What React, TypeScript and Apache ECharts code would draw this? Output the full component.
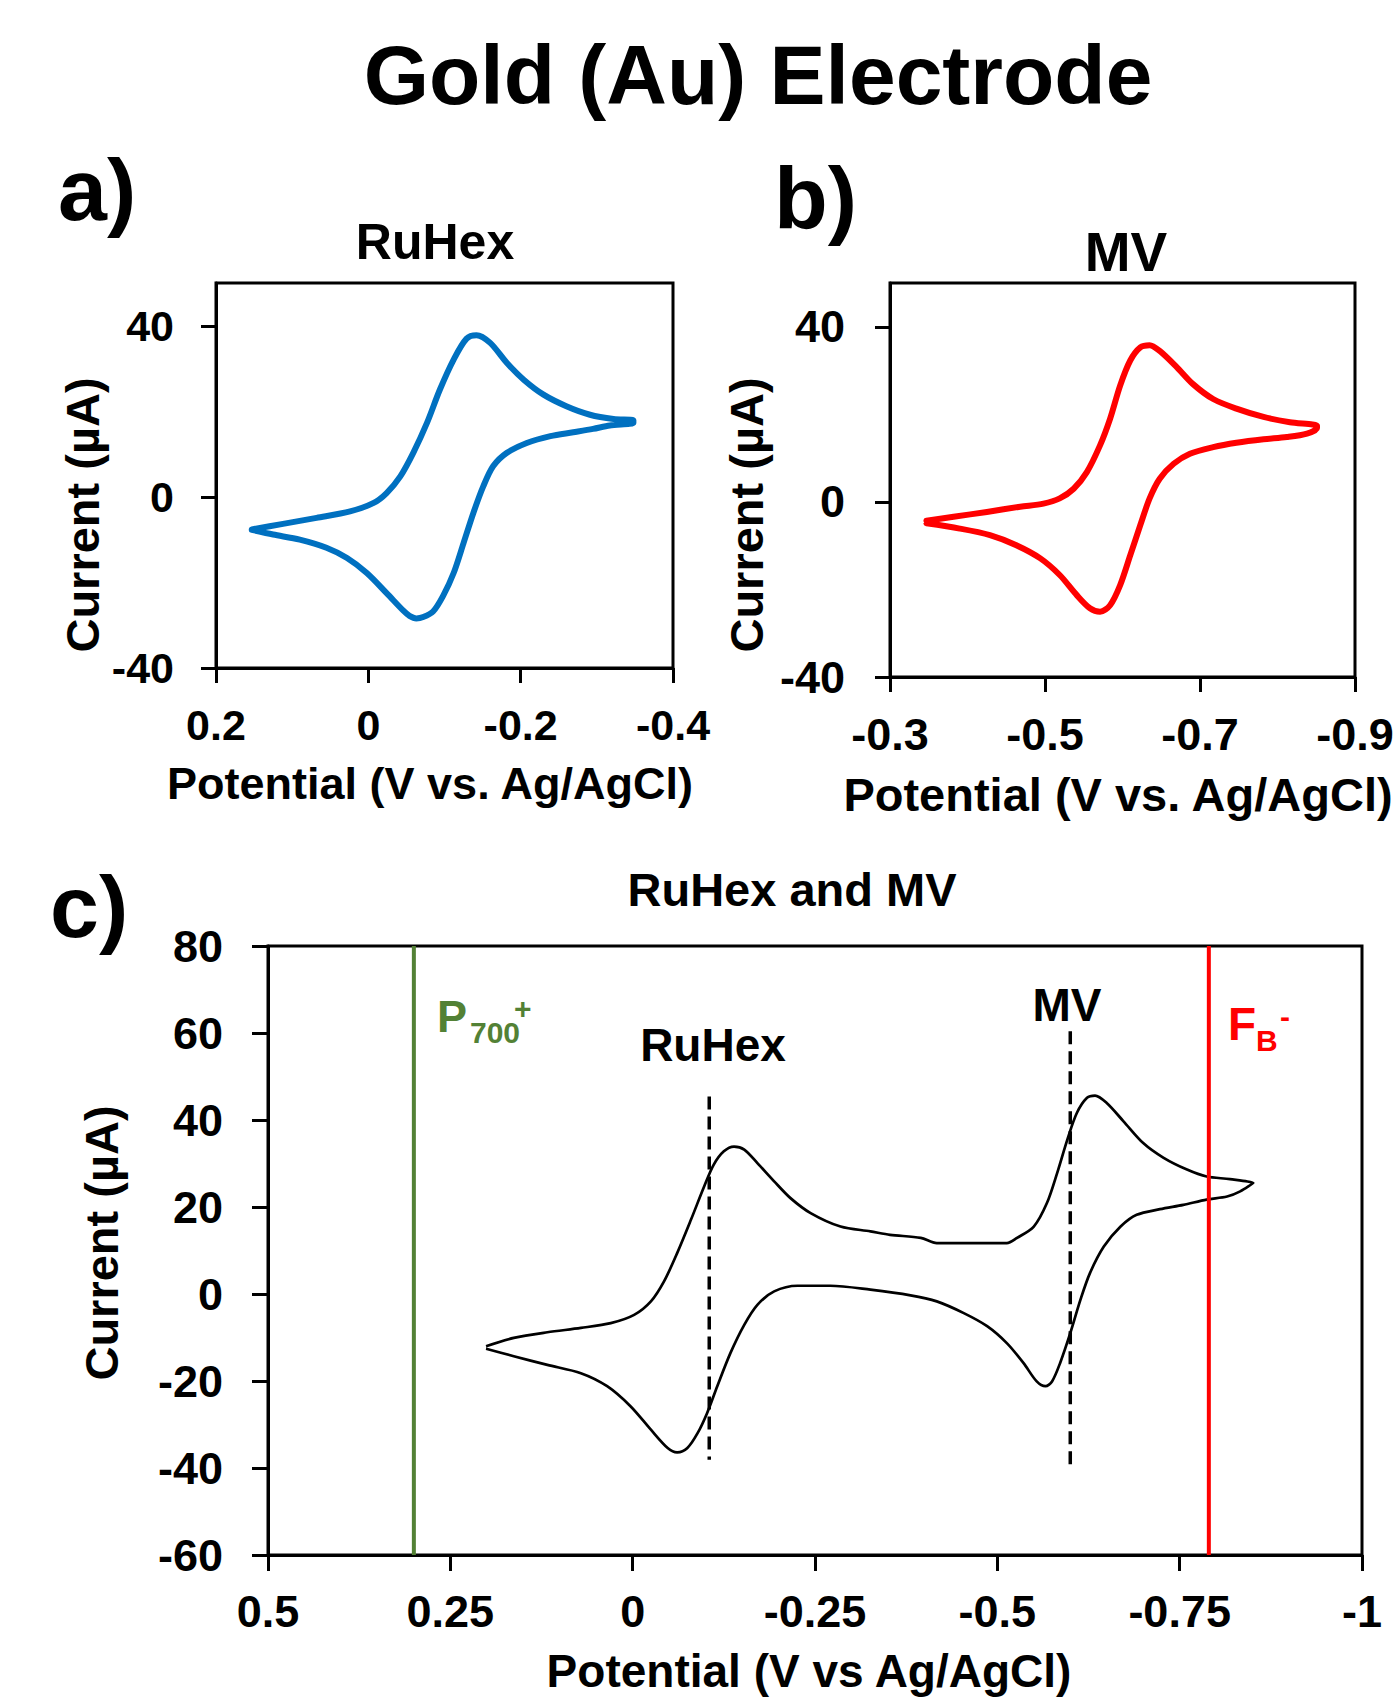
import React, { useEffect, useRef } from "react";
import * as echarts from "echarts";

// ---------- data (potential V vs Ag/AgCl, current µA) ----------
const ruhexScanOut: number[][] = [
  [0.153, -7.6], [0.112, -6.3], [0.068, -4.9], [0.024, -3.4], [-0.007, -1.4], [-0.024, 0.9],
  [-0.042, 4.8], [-0.059, 10.3], [-0.077, 17.3], [-0.094, 25.1], [-0.112, 32.1], [-0.129, 37.0],
  [-0.142, 37.8], [-0.160, 36.0], [-0.182, 31.3], [-0.204, 27.4], [-0.230, 23.9], [-0.260, 21.2],
  [-0.291, 19.2], [-0.322, 18.2], [-0.348, 17.9],
];
const ruhexScanBack: number[][] = [
  [-0.348, 17.3], [-0.317, 16.7], [-0.295, 15.9], [-0.269, 15.1], [-0.239, 14.2], [-0.208, 12.6],
  [-0.182, 10.3], [-0.164, 7.2], [-0.151, 2.5], [-0.138, -3.7], [-0.125, -10.8], [-0.112, -17.8],
  [-0.098, -23.2], [-0.085, -26.8], [-0.072, -28.1], [-0.063, -28.4], [-0.054, -27.8], [-0.046, -26.6],
  [-0.024, -22.5], [0.002, -17.8], [0.028, -14.3], [0.055, -11.9], [0.090, -10.0], [0.125, -8.8],
  [0.153, -7.7],
];

const mvScanOut: number[][] = [
  [-0.347, -4.3], [-0.382, -3.4], [-0.425, -2.3], [-0.468, -1.1], [-0.498, -0.4], [-0.519, 0.8],
  [-0.537, 3.0], [-0.554, 6.8], [-0.571, 12.9], [-0.584, 19.0], [-0.597, 26.6], [-0.610, 32.3],
  [-0.623, 35.3], [-0.635, 35.8], [-0.648, 34.5], [-0.670, 30.8], [-0.691, 26.9], [-0.717, 23.5],
  [-0.747, 21.3], [-0.782, 19.4], [-0.816, 18.2], [-0.851, 17.4],
];
const mvScanBack: number[][] = [
  [-0.851, 16.9], [-0.838, 15.6], [-0.812, 14.8], [-0.782, 14.3], [-0.747, 13.5], [-0.717, 12.5],
  [-0.687, 11.0], [-0.666, 8.7], [-0.648, 5.3], [-0.635, 0.8], [-0.623, -5.3], [-0.610, -12.2],
  [-0.597, -19.0], [-0.584, -23.6], [-0.571, -25.1], [-0.558, -24.3], [-0.541, -21.3], [-0.519, -16.7],
  [-0.494, -12.9], [-0.463, -9.9], [-0.429, -7.6], [-0.390, -6.1], [-0.347, -4.9],
];

const comboScanOut: number[][] = [
  [0.201, -12.0], [0.163, -10.1], [0.117, -8.8], [0.071, -7.8], [0.030, -6.7], [-0.002, -4.8],
  [-0.025, -1.7], [-0.043, 2.9], [-0.061, 9.4], [-0.080, 17.1], [-0.098, 24.7], [-0.111, 29.7],
  [-0.125, 32.8], [-0.139, 33.9], [-0.153, 33.2], [-0.171, 30.1], [-0.194, 25.9], [-0.216, 22.1],
  [-0.244, 18.6], [-0.285, 15.5], [-0.326, 14.4], [-0.353, 13.6], [-0.395, 12.9], [-0.417, 11.7],
  [-0.463, 11.7], [-0.513, 11.7], [-0.527, 12.9], [-0.550, 15.5], [-0.568, 20.9], [-0.582, 27.8],
  [-0.596, 35.5], [-0.609, 41.6], [-0.623, 45.1], [-0.634, 45.6], [-0.650, 43.9], [-0.673, 39.7],
  [-0.700, 34.7], [-0.728, 31.3], [-0.760, 28.6], [-0.787, 27.0], [-0.819, 26.4], [-0.851, 25.5],
];
const comboScanBack: number[][] = [
  [-0.851, 25.4], [-0.833, 23.6], [-0.815, 22.4], [-0.787, 21.7], [-0.755, 20.5], [-0.723, 19.5],
  [-0.691, 18.2], [-0.669, 15.5], [-0.646, 10.9], [-0.627, 4.8], [-0.614, -1.3], [-0.600, -9.0],
  [-0.586, -15.9], [-0.575, -20.1], [-0.566, -21.2], [-0.554, -20.1], [-0.536, -15.9], [-0.513, -11.3],
  [-0.486, -7.4], [-0.454, -4.4], [-0.417, -1.7], [-0.381, -0.3], [-0.326, 1.0], [-0.271, 1.9],
  [-0.226, 1.9], [-0.194, 0.6], [-0.171, -2.5], [-0.153, -7.1], [-0.134, -13.6], [-0.116, -21.2],
  [-0.102, -27.4], [-0.089, -32.0], [-0.075, -35.4], [-0.061, -36.4], [-0.048, -35.4], [-0.025, -31.2],
  [0.003, -25.8], [0.035, -21.2], [0.071, -18.2], [0.117, -16.3], [0.163, -14.3], [0.201, -12.6],
];

// reference lines in panel c
const p700Line: number[][] = [[0.3, -60], [0.3, 80]];
const fbLine: number[][] = [[-0.79, -60], [-0.79, 80]];
const ruhexHalfWave: number[][] = [[-0.105, 45.4], [-0.105, -38.1]];
const mvHalfWave: number[][] = [[-0.6, 60.4], [-0.6, -40.4]];

// tick values
const ticksAX = [-0.4, -0.2, 0, 0.2];
const ticksBX = [-0.9, -0.7, -0.5, -0.3];
const ticksABY = [-40, 0, 40];

const FONT = '"Liberation Sans", Arial, Helvetica, sans-serif';

function txt(text: string, x: number, y: number, size: number, opts: any = {}) {
  return {
    type: "text",
    x,
    y,
    rotation: opts.rotation || 0,
    style: {
      text,
      fontSize: size,
      fontWeight: "bold",
      fontFamily: FONT,
      fill: opts.fill || "#000",
      align: opts.align || "center",
      verticalAlign: "middle",
    },
  };
}

function lbl(size: number, margin: number, extra: any = {}) {
  return {
    color: "#000",
    fontSize: size,
    fontWeight: "bold",
    fontFamily: FONT,
    margin,
    ...extra,
  };
}

const axisLine = { onZero: false, lineStyle: { color: "#000", width: 3 } };

export default function App() {
  const ref = useRef<HTMLDivElement>(null);
  useEffect(() => {
    if (!ref.current) return;
    const chart = echarts.init(ref.current, undefined, { renderer: "svg" });
    const gridBase = {
      show: true,
      borderColor: "#000",
      borderWidth: 3,
      backgroundColor: "transparent",
      containLabel: false,
      outerBoundsMode: "none",
    };
    const option: any = {
      animation: false,
      backgroundColor: "#fff",
      grid: [
        { ...gridBase, left: 216, top: 283, width: 457, height: 385 },
        { ...gridBase, left: 890, top: 283, width: 465, height: 394 },
        { ...gridBase, left: 268, top: 946, width: 1094, height: 609 },
      ],
      xAxis: [
        {
          gridIndex: 0, type: "value", min: -0.4, max: 0.2, inverse: true,
          axisLine, splitLine: { show: false },
          axisTick: { length: 15, lineStyle: { width: 3, color: "#000" }, customValues: ticksAX },
          axisLabel: lbl(43, 57, { verticalAlign: "middle", customValues: ticksAX }),
        },
        {
          gridIndex: 1, type: "value", min: -0.9, max: -0.3, inverse: true,
          axisLine, splitLine: { show: false },
          axisTick: { length: 15, lineStyle: { width: 3, color: "#000" }, customValues: ticksBX },
          axisLabel: lbl(45, 57, { verticalAlign: "middle", customValues: ticksBX }),
        },
        {
          gridIndex: 2, type: "value", min: -1, max: 0.5, interval: 0.25, inverse: true,
          axisLine, splitLine: { show: false },
          axisTick: { length: 16, lineStyle: { width: 3, color: "#000" } },
          axisLabel: lbl(45, 56, { verticalAlign: "middle", interval: 0 }),
        },
      ],
      yAxis: [
        {
          gridIndex: 0, type: "value", min: -40, max: 50,
          axisLine, splitLine: { show: false },
          axisTick: { length: 15, lineStyle: { width: 3, color: "#000" }, customValues: ticksABY },
          axisLabel: lbl(43, 42, { customValues: ticksABY }),
        },
        {
          gridIndex: 1, type: "value", min: -40, max: 50,
          axisLine, splitLine: { show: false },
          axisTick: { length: 15, lineStyle: { width: 3, color: "#000" }, customValues: ticksABY },
          axisLabel: lbl(45, 45, { customValues: ticksABY }),
        },
        {
          gridIndex: 2, type: "value", min: -60, max: 80, interval: 20,
          axisLine, splitLine: { show: false },
          axisTick: { length: 16, lineStyle: { width: 3, color: "#000" } },
          axisLabel: lbl(45, 45),
        },
      ],
      series: [
        {
          type: "line", xAxisIndex: 0, yAxisIndex: 0, showSymbol: false, symbol: "none", smooth: 0.3,
          data: [...ruhexScanOut, ...ruhexScanBack],
          lineStyle: { color: "#0070C0", width: 6, cap: "round", join: "round" },
        },
        {
          type: "line", xAxisIndex: 1, yAxisIndex: 1, showSymbol: false, symbol: "none", smooth: 0.3,
          data: [...mvScanOut, ...mvScanBack],
          lineStyle: { color: "#FF0000", width: 6, cap: "round", join: "round" },
        },
        {
          type: "line", xAxisIndex: 2, yAxisIndex: 2, showSymbol: false, symbol: "none", smooth: 0.3,
          data: [...comboScanOut, ...comboScanBack],
          lineStyle: { color: "#000", width: 2.7, join: "round" },
        },
        {
          type: "line", xAxisIndex: 2, yAxisIndex: 2, showSymbol: false, symbol: "none",
          data: ruhexHalfWave, lineStyle: { color: "#000", width: 3.5, type: [13, 7] },
        },
        {
          type: "line", xAxisIndex: 2, yAxisIndex: 2, showSymbol: false, symbol: "none",
          data: mvHalfWave, lineStyle: { color: "#000", width: 3.5, type: [13, 7] },
        },
        {
          type: "line", xAxisIndex: 2, yAxisIndex: 2, showSymbol: false, symbol: "none",
          data: p700Line, lineStyle: { color: "#538135", width: 4 },
        },
        {
          type: "line", xAxisIndex: 2, yAxisIndex: 2, showSymbol: false, symbol: "none",
          data: fbLine, lineStyle: { color: "#FF0000", width: 4 },
        },
      ],
      graphic: [
        txt("Gold (Au) Electrode", 758, 75, 84),
        txt("a)", 58, 189, 88, { align: "left" }),
        txt("b)", 774, 197, 88, { align: "left" }),
        txt("c)", 50, 906, 88, { align: "left" }),
        txt("RuHex", 435, 242, 50),
        txt("MV", 1126, 252, 55),
        txt("Potential (V vs. Ag/AgCl)", 430, 783, 45),
        txt("Potential (V vs. Ag/AgCl)", 1118, 794, 47),
        txt("Current (µA)", 82, 515, 47, { rotation: Math.PI / 2 }),
        txt("Current (µA)", 746, 515, 47, { rotation: Math.PI / 2 }),
        txt("RuHex and MV", 792, 889, 47),
        txt("Current (µA)", 101, 1243, 47, { rotation: Math.PI / 2 }),
        txt("Potential (V vs Ag/AgCl)", 809, 1671, 46),
        txt("P", 437, 1016, 45, { align: "left", fill: "#538135" }),
        txt("700", 470, 1032, 30, { align: "left", fill: "#538135" }),
        txt("+", 514, 1008, 30, { align: "left", fill: "#538135" }),
        txt("RuHex", 713, 1045, 46),
        txt("MV", 1067, 1005, 46),
        txt("F", 1228, 1024, 46, { align: "left", fill: "#FF0000" }),
        txt("B", 1256, 1040, 30, { align: "left", fill: "#FF0000" }),
        txt("-", 1280, 1016, 30, { align: "left", fill: "#FF0000" }),
      ],
    };
    chart.setOption(option);
    return () => chart.dispose();
  }, []);
  return (
    <div
      ref={ref}
      style={{ position: "absolute", left: 0, top: 0, width: 1400, height: 1700, background: "#fff" }}
    />
  );
}
